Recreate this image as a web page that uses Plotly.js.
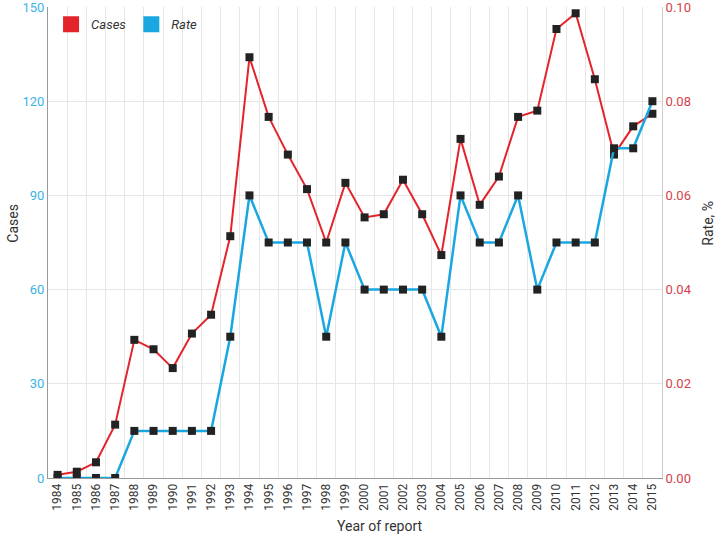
<!DOCTYPE html>
<html>
<head>
<meta charset="utf-8">
<script src="https://cdn.plot.ly/plotly-3.0.1.min.js"></script>
<style>html,body{margin:0;padding:0;background:#fff;}#chart{width:721px;height:536px;}</style>
</head>
<body>
<div id="chart"></div>
<script>
var years = ["1984","1985","1986","1987","1988","1989","1990","1991","1992","1993","1994","1995","1996","1997","1998","1999","2000","2001","2002","2003","2004","2005","2006","2007","2008","2009","2010","2011","2012","2013","2014","2015"];
var cases = [1,2,5,17,44,41,35,46,52,77,134,115,103,92,75,94,83,84,95,84,71,108,87,96,115,117,143,148,127,103,112,116];
var rate = [0,0,0,0,0.01,0.01,0.01,0.01,0.01,0.03,0.06,0.05,0.05,0.05,0.03,0.05,0.04,0.04,0.04,0.04,0.03,0.06,0.05,0.05,0.06,0.04,0.05,0.05,0.05,0.07,0.07,0.08];
var legendNames = ["Cases","Rate"];
var titles = {x: "Year of report", y: "Cases", y2: "Rate, %"};

var FONT = "'Liberation Sans Narrow', 'Arial Narrow', Roboto, sans-serif";
var RED = "#e3242b", BLUE = "#1aa7e0";

var traces = [
  {x: years, y: rate, yaxis: "y2", type: "scatter", mode: "lines+markers",
   line: {color: BLUE, width: 2.5}, marker: {symbol: "square", size: 8, color: "#222"},
   showlegend: false, hoverinfo: "x+y"},
  {x: years, y: cases, yaxis: "y", type: "scatter", mode: "lines+markers",
   line: {color: RED, width: 2}, marker: {symbol: "square", size: 8, color: "#222"},
   showlegend: false, hoverinfo: "x+y"},
  {x: [null], y: [null], type: "scatter", mode: "markers", name: legendNames[0],
   marker: {symbol: "square", size: 16, color: RED}},
  {x: [null], y: [null], type: "scatter", mode: "markers", name: legendNames[1],
   marker: {symbol: "square", size: 16, color: BLUE}}
];

var layout = {
  width: 721, height: 536,
  margin: {l: 48, r: 59, t: 7, b: 58},
  paper_bgcolor: "#fff", plot_bgcolor: "#fff",
  font: {family: FONT, size: 13, color: "#333"},
  showlegend: true,
  legend: {orientation: "h", x: 0.005, y: 0.995, xanchor: "left", yanchor: "top",
           bgcolor: "rgba(0,0,0,0)", font: {family: FONT, size: 13, color: "#333", style: "italic"},
           itemwidth: 30, traceorder: "normal"},
  xaxis: {type: "category", tickson: "boundaries", showgrid: true, gridcolor: "#e6e6e6",
          showline: true, linecolor: "#999", linewidth: 1, ticks: "", tickangle: -90,
          tickfont: {family: FONT, size: 12, color: "#333"}, range: [-0.5, 31.5]},
  yaxis: {range: [0, 150], dtick: 30, showgrid: true, gridcolor: "#e6e6e6", zeroline: false,
          showline: true, linecolor: "#999", linewidth: 1, ticks: "", ticklabeloverflow: "allow",
          tickfont: {family: FONT, size: 13, color: "#3bb3e4"}},
  yaxis2: {range: [0, 0.1], dtick: 0.02, tickformat: ".2f", overlaying: "y", side: "right",
           showgrid: false, zeroline: false, showline: true, linecolor: "#ccc", linewidth: 1, ticks: "",
           ticklabeloverflow: "allow",
           tickfont: {family: FONT, size: 13, color: "#d5414a"}},
  annotations: [
    {text: titles.x, xref: "paper", yref: "paper", x: 0.54, y: 0, yshift: -48,
     showarrow: false, xanchor: "center", yanchor: "middle",
     font: {family: FONT, size: 14, color: "#333"}},
    {text: titles.y, xref: "paper", yref: "paper", x: 0, y: 0.54, xshift: -35,
     textangle: -90, showarrow: false, xanchor: "center", yanchor: "middle",
     font: {family: FONT, size: 14, color: "#333"}},
    {text: titles.y2, xref: "paper", yref: "paper", x: 1, y: 0.54, xshift: 46,
     textangle: -90, showarrow: false, xanchor: "center", yanchor: "middle",
     font: {family: FONT, size: 14, color: "#333"}}
  ]
};

Plotly.newPlot("chart", traces, layout, {displayModeBar: false, staticPlot: true});
</script>
</body>
</html>
